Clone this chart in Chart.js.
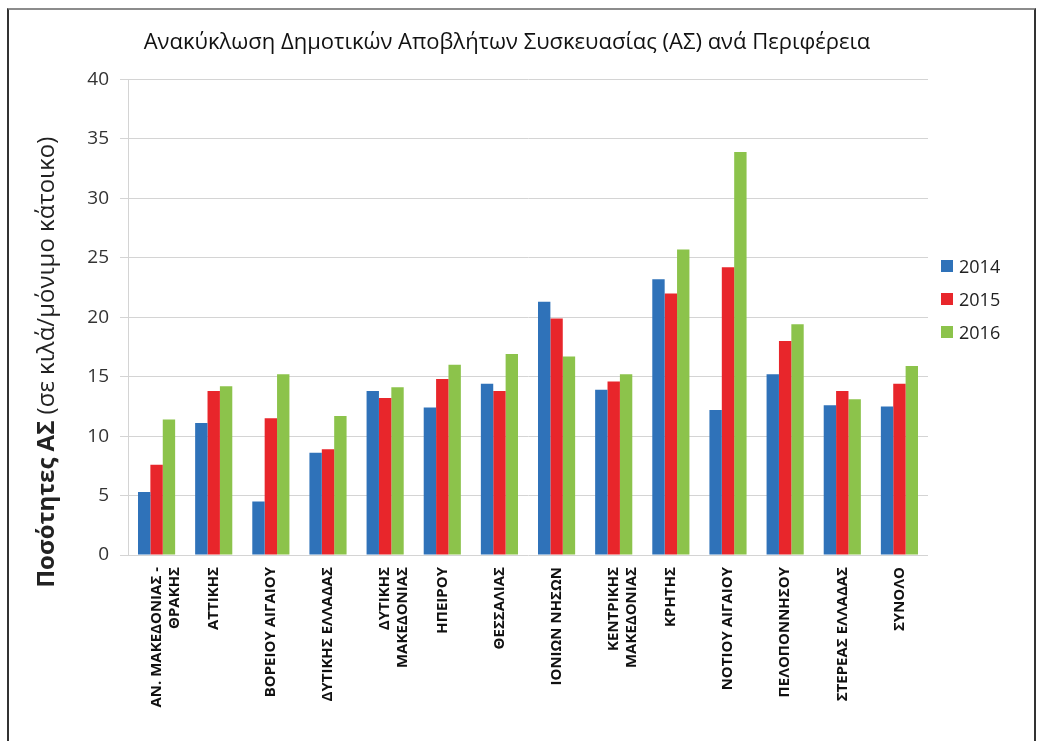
<!DOCTYPE html>
<html lang="el">
<head>
    <meta charset="UTF-8">
    <title>Ανακύκλωση Δημοτικών Αποβλήτων Συσκευασίας</title>
    <script src="https://cdn.jsdelivr.net/npm/chart.js"></script>
    <style>
        html, body {
            margin: 0;
            padding: 0;
            background: #fff;
            font-family: "Open Sans", sans-serif;
        }
        .wrap {
            position: relative;
            width: 1038px;
            height: 741px;
            overflow: hidden;
        }
        .frame {
            position: absolute;
            left: 7px;
            top: 8px;
            width: 1025px;
            height: 760px;
            border-top: 2px solid #8c8c8c;
            border-left: 2px solid #333;
            border-right: 2px solid #333;
        }
        canvas {
            position: absolute;
            left: 0;
            top: 0;
        }
        .legend {
            position: absolute;
            left: 941px;
            top: 254px;
            color: #222;
            font-size: 18px;
        }
        .legend div {
            height: 33px;
            line-height: 24px;
            display: flex;
            align-items: flex-start;
        }
        .legend span.box {
            display: inline-block;
            width: 12px;
            height: 12px;
            margin: 6px 6px 0 0;
        }
    </style>
</head>
<body>
    <div class="wrap">
        <div class="frame"></div>
        <canvas id="recyclingChart" width="1038" height="741"></canvas>
        <div class="legend" id="legend"></div>
    </div>

    <script>
        // data (kg per resident)
        const regions = [
            ["ΑΝ. ΜΑΚΕΔΟΝΙΑΣ -", "ΘΡΑΚΗΣ"],
            "ΑΤΤΙΚΗΣ",
            "ΒΟΡΕΙΟΥ ΑΙΓΑΙΟΥ",
            "ΔΥΤΙΚΗΣ ΕΛΛΑΔΑΣ",
            ["ΔΥΤΙΚΗΣ", "ΜΑΚΕΔΟΝΙΑΣ"],
            "ΗΠΕΙΡΟΥ",
            "ΘΕΣΣΑΛΙΑΣ",
            "ΙΟΝΙΩΝ ΝΗΣΩΝ",
            ["ΚΕΝΤΡΙΚΗΣ", "ΜΑΚΕΔΟΝΙΑΣ"],
            "ΚΡΗΤΗΣ",
            "ΝΟΤΙΟΥ ΑΙΓΑΙΟΥ",
            "ΠΕΛΟΠΟΝΝΗΣΟΥ",
            "ΣΤΕΡΕΑΣ ΕΛΛΑΔΑΣ",
            "ΣΥΝΟΛΟ"
        ];
        const years = ["2014", "2015", "2016"];
        const values2014 = [5.3, 11.1, 4.5, 8.6, 13.8, 12.4, 14.4, 21.3, 13.9, 23.2, 12.2, 15.2, 12.6, 12.5];
        const values2015 = [7.6, 13.8, 11.5, 8.9, 13.2, 14.8, 13.8, 19.9, 14.6, 22.0, 24.2, 18.0, 13.8, 14.4];
        const values2016 = [11.4, 14.2, 15.2, 11.7, 14.1, 16.0, 16.9, 16.7, 15.2, 25.7, 33.9, 19.4, 13.1, 15.9];
        const yTicks = [0, 5, 10, 15, 20, 25, 30, 35, 40];
        const colors = ["#2f72b9", "#e8262b", "#8cc34b"];

        const chartTitle = "Ανακύκλωση Δημοτικών Αποβλήτων Συσκευασίας (ΑΣ) ανά Περιφέρεια";
        const yTitleBold = "Ποσότητες ΑΣ ";
        const yTitleRest = "(σε κιλά/μόνιμο κάτοικο)";

        const FONT = '"Open Sans", sans-serif';

        // y axis title: part bold, part normal, so drawn by hand
        const yTitlePlugin = {
            id: "yTitle",
            afterDraw(chart) {
                const { ctx, chartArea } = chart;
                ctx.save();
                ctx.translate(47, (chartArea.top + chartArea.bottom) / 2 + 45);
                ctx.rotate(-Math.PI / 2);
                ctx.textBaseline = "middle";
                ctx.fillStyle = "#222";
                ctx.font = "bold 24px " + FONT;
                const w1 = ctx.measureText(yTitleBold).width;
                ctx.font = "24px " + FONT;
                const w2 = ctx.measureText(yTitleRest).width;
                let x = -(w1 + w2) / 2;
                ctx.textAlign = "left";
                ctx.font = "bold 24px " + FONT;
                ctx.fillText(yTitleBold, x, 0);
                ctx.font = "24px " + FONT;
                ctx.fillText(yTitleRest, x + w1, 0);
                ctx.restore();
            }
        };

        const seriesValues = [values2014, values2015, values2016];

        const chart = new Chart(document.getElementById("recyclingChart"), {
            type: "bar",
            data: {
                labels: regions,
                datasets: years.map((y, i) => ({
                    label: y,
                    data: seriesValues[i],
                    backgroundColor: colors[i],
                    categoryPercentage: 0.65,
                    barPercentage: 1.0
                }))
            },
            options: {
                responsive: false,
                animation: false,
                devicePixelRatio: 1,
                layout: { padding: { left: 86, right: 110, top: 0, bottom: 0 } },
                plugins: {
                    legend: { display: false },
                    tooltip: { enabled: false },
                    title: {
                        display: true,
                        text: chartTitle,
                        color: "#111",
                        font: { family: FONT, size: 22, weight: "500" },
                        padding: { top: 30, bottom: 23 }
                    }
                },
                scales: {
                    x: {
                        grid: { display: false, drawTicks: false },
                        border: { display: false },
                        ticks: {
                            autoSkip: false,
                            maxRotation: 90,
                            minRotation: 90,
                            padding: 12,
                            color: "#111",
                            font: { family: FONT, size: 15, weight: "bold", lineHeight: 1.2 }
                        },
                        afterFit(scale) { scale.height = 186; }
                    },
                    y: {
                        min: 0,
                        max: 40,
                        afterBuildTicks(scale) {
                            scale.ticks = yTicks.map(v => ({ value: v }));
                        },
                        grid: { color: "#d4d4d4", lineWidth: 1, tickLength: 8 },
                        border: { display: true, color: "#d4d4d4" },
                        ticks: {
                            padding: 11,
                            color: "#333",
                            font: { family: FONT, size: 19 }
                        },
                        afterFit(scale) { scale.width = 42; }
                    }
                }
            },
            plugins: [yTitlePlugin]
        });

        // legend on the right
        const legend = document.getElementById("legend");
        legend.innerHTML = chart.data.datasets.map(ds =>
            `<div><span class="box" style="background:${ds.backgroundColor}"></span>${ds.label}</div>`
        ).join("");
    </script>
</body>
</html>
